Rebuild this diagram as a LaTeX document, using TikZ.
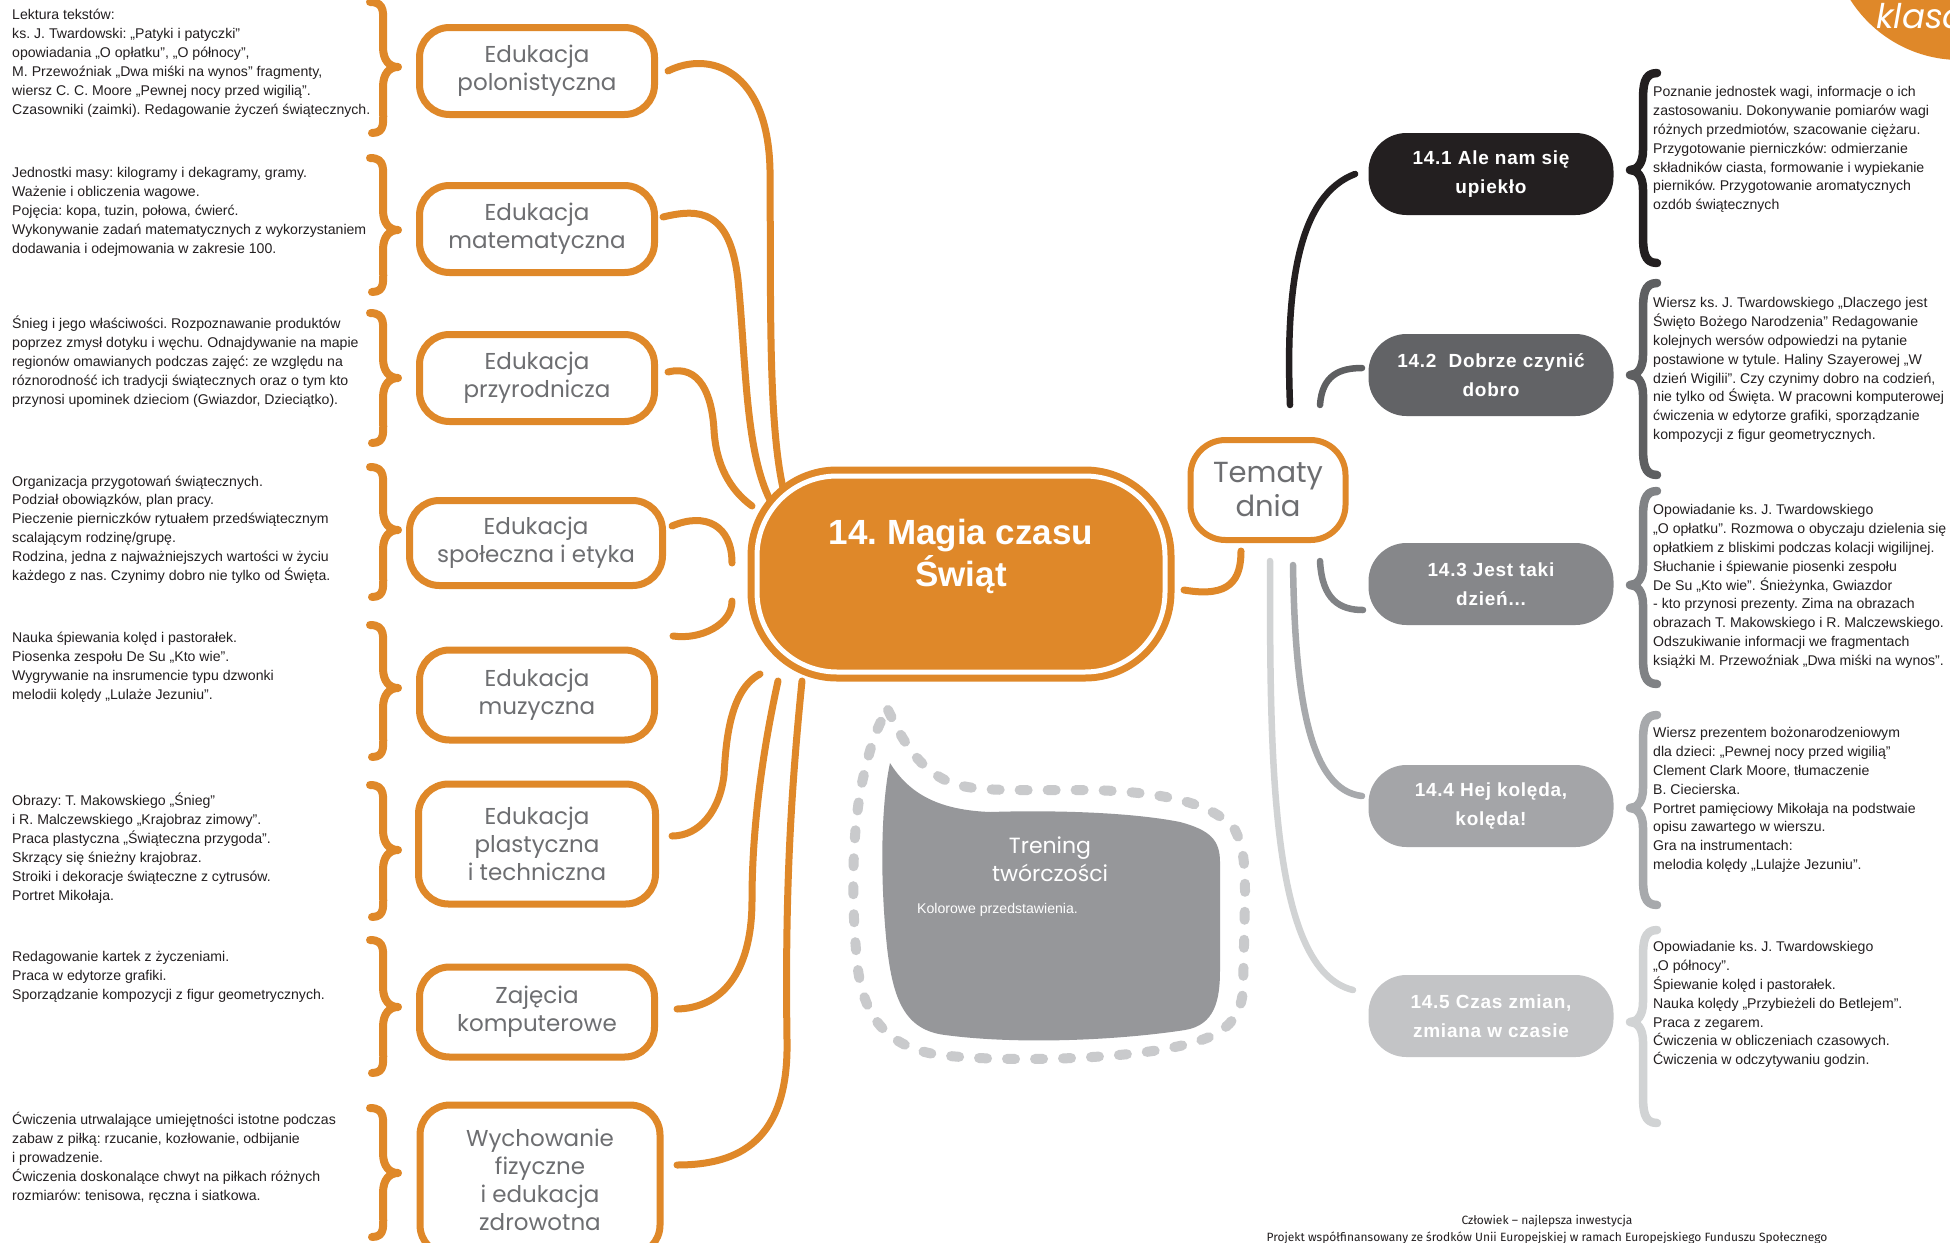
\documentclass[tikz,border=0pt]{standalone}
\usepackage{fontspec}
\setmainfont{Liberation Sans}
\newfontfamily\handfont{Poppins}
\newfontfamily\topicfont{Liberation Sans}[LetterSpace=4]
\newfontfamily\footfont{Fira Sans}
\usetikzlibrary{calc}
\frenchspacing
\definecolor{orng}{HTML}{DF8829}
\definecolor{hgrey}{HTML}{6D6E71}
\definecolor{txt}{HTML}{231F20}
\definecolor{ca}{HTML}{231F20}
\definecolor{cb}{HTML}{626366}
\definecolor{cc}{HTML}{86878A}
\definecolor{cd}{HTML}{A4A5A8}
\definecolor{ce}{HTML}{C3C4C6}
\definecolor{la}{HTML}{231F20}
\definecolor{lb}{HTML}{5E5F61}
\definecolor{lc}{HTML}{808285}
\definecolor{ld}{HTML}{A7A9AC}
\definecolor{le}{HTML}{D1D3D4}
\definecolor{trfill}{HTML}{96979A}
\definecolor{trdash}{HTML}{C9CACC}
\newcommand\orangebrace[3]{\draw[lbr] (370,#1) .. controls (386,#1) and (383,#1+12) .. (383,#1+28) -- (383,#2-20) .. controls (383,#2-6) and (390,#2) .. (398,#2) .. controls (390,#2) and (383,#2+6) .. (383,#2+20) -- (383,#3-28) .. controls (383,#3-12) and (386,#3) .. (372,#3);}
\newcommand\greybrace[4]{\draw[rbr,#1] (1657,#2) .. controls (1644,#2) and (1643,#2+12) .. (1643,#2+28) -- (1643,#3-20) .. controls (1643,#3-6) and (1637,#3) .. (1630,#3) .. controls (1637,#3) and (1643,#3+6) .. (1643,#3+20) -- (1643,#4-28) .. controls (1643,#4-12) and (1644,#4) .. (1657,#4);}
\begin{document}
\begin{tikzpicture}[x=1pt,y=-1pt,
  body/.style={anchor=north west, inner sep=0pt, align=left, text=txt, font=\fontsize{14.1}{18.9}\selectfont},
  subj/.style={draw=orng, line width=7pt, fill=white, rounded corners=30pt, outer sep=0pt, minimum width=235pt, minimum height=87pt, align=center, text=hgrey, font=\handfont\fontsize{23}{28}\selectfont},
  topicbox/.style={rounded corners=38pt, outer sep=0pt, minimum width=245pt, minimum height=82pt, align=center, text=white, font=\topicfont\bfseries\fontsize{19}{29}\selectfont},
  lbr/.style={draw=orng, line width=8pt, line cap=round, line join=round},
  rbr/.style={line width=8.5pt, line cap=round, line join=round},
  conn/.style={draw=orng, line width=7pt, line cap=round},
  gconn/.style={line width=6.5pt, line cap=round}]
\useasboundingbox (0,0) rectangle (1950,1242);
\fill[white] (0,0) rectangle (1950,1242);

% corner badge and footer (clipped to page)
\begin{scope}
\clip (0,0) rectangle (1950,1242);
\fill[orng] (1960,-70) circle[radius=130pt];
\node[anchor=west, text=white, inner sep=0pt, font=\handfont\itshape\fontsize{34}{34}\selectfont] (klasa) at (1876,16) {klasa};
\node[text=txt, inner sep=0pt, font=\footfont\fontsize{12}{12}\selectfont] (foot1) at (1547,1221) {Człowiek – najlepsza inwestycja};
\node[text=txt, inner sep=0pt, font=\footfont\fontsize{12}{12}\selectfont] (foot2) at (1547,1238) {Projekt współfinansowany ze środków Unii Europejskiej w ramach Europejskiego Funduszu Społecznego};
\end{scope}

% left descriptions
\node[body] (d1) at (12,9) {Lektura tekstów:\\ks. J. Twardowski: „Patyki i patyczki"\\opowiadania „O opłatku", „O północy",\\M. Przewoźniak „Dwa miśki na wynos" fragmenty,\\wiersz C. C. Moore „Pewnej nocy przed wigilią".\\Czasowniki (zaimki). Redagowanie życzeń świątecznych.};
\node[body] (d2) at (12,167) {Jednostki masy: kilogramy i dekagramy, gramy.\\Ważenie i obliczenia wagowe.\\Pojęcia: kopa, tuzin, połowa, ćwierć.\\Wykonywanie zadań matematycznych z wykorzystaniem\\dodawania i odejmowania w zakresie 100.};
\node[body] (d3) at (12,316) {Śnieg i jego właściwości. Rozpoznawanie produktów\\poprzez zmysł dotyku i węchu. Odnajdywanie na mapie\\regionów omawianych podczas zajęć: ze względu na\\róznorodność ich tradycji świątecznych oraz o tym kto\\przynosi upominek dzieciom (Gwiazdor, Dzieciątko).};
\node[body] (d4) at (12,475.5) {Organizacja przygotowań świątecznych.\\Podział obowiązków, plan pracy.\\Pieczenie pierniczków rytuałem przedświątecznym\\scalającym rodzinę/grupę.\\Rodzina, jedna z najważniejszych wartości w życiu\\każdego z nas. Czynimy dobro nie tylko od Święta.};
\node[body] (d5) at (12,632) {Nauka śpiewania kolęd i pastorałek.\\Piosenka zespołu De Su „Kto wie".\\Wygrywanie na insrumencie typu dzwonki\\melodii kolędy „Lulaże Jezuniu".};
\node[body] (d6) at (12,793) {Obrazy: T. Makowskiego „Śnieg"\\i R. Malczewskiego „Krajobraz zimowy".\\Praca plastyczna „Świąteczna przygoda".\\Skrzący się śnieżny krajobraz.\\Stroiki i dekoracje świąteczne z cytrusów.\\Portret Mikołaja.};
\node[body] (d7) at (12,951) {Redagowanie kartek z życzeniami.\\Praca w edytorze grafiki.\\Sporządzanie kompozycji z figur geometrycznych.};
\node[body] (d8) at (12,1112) {Ćwiczenia utrwalające umiejętności istotne podczas\\zabaw z piłką: rzucanie, kozłowanie, odbijanie\\i prowadzenie.\\Ćwiczenia doskonalące chwyt na piłkach różnych\\rozmiarów: tenisowa, ręczna i siatkowa.};

% left braces
\orangebrace{2}{67}{133}
\orangebrace{158}{230}{292}
\orangebrace{313}{378}{443}
\orangebrace{467}{530}{597}
\orangebrace{625}{688}{757}
\orangebrace{785}{850}{917}
\orangebrace{940}{1007}{1073}
\orangebrace{1108}{1173}{1237}

% subject nodes
\node[subj] (s1) at (537,71) {Edukacja\\polonistyczna};
\node[subj] (s2) at (537,229) {Edukacja\\matematyczna};
\node[subj] (s3) at (537,378) {Edukacja\\przyrodnicza};
\node[subj, minimum width=253pt, minimum height=85pt] (s4) at (536,543) {Edukacja\\społeczna i etyka};
\node[subj, minimum height=90pt] (s5) at (537,695) {Edukacja\\muzyczna};
\node[subj, minimum width=237pt, minimum height=120pt] (s6) at (537,844) {Edukacja\\plastyczna\\i techniczna};
\node[subj, minimum height=90pt] (s7) at (537,1012) {Zajęcia\\komputerowe};
\node[subj, minimum width=240pt, minimum height=150pt] (s8) at (540,1180) {Wychowanie\\fizyczne\\i edukacja\\zdrowotna};

% central node
\node[fill=orng, draw=white, line width=5pt, preaction={draw=orng, line width=19pt}, rounded corners=80pt, outer sep=0pt, minimum width=408pt, minimum height=196pt, align=center, text=white, font=\bfseries\fontsize{35}{42}\selectfont] (c) at (961,574) {14. Magia czasu\\Świąt\\\mbox{}};

% Tematy dnia
\node[draw=orng, line width=6pt, fill=white, rounded corners=35pt, outer sep=0pt, minimum width=155pt, minimum height=100pt, align=center, text=hgrey, font=\handfont\fontsize{29}{34}\selectfont] (tm) at (1268,490) {Tematy\\dnia};

% topic boxes
\node[topicbox, fill=ca] (t1) at (1491,174) {14.1 Ale nam się\\upiekło};
\node[topicbox, fill=cb] (t2) at (1491,375) {14.2~ Dobrze czynić\\dobro};
\node[topicbox, fill=cc] (t3) at (1491,584) {14.3 Jest taki\\dzień...};
\node[topicbox, fill=cd] (t4) at (1491,806) {14.4 Hej kolęda,\\kolęda!};
\node[topicbox, fill=ce] (t5) at (1491,1016) {14.5 Czas zmian,\\zmiana w czasie};

% right descriptions
\node[body] (r1) at (1653,86) {Poznanie jednostek wagi, informacje o ich\\zastosowaniu. Dokonywanie pomiarów wagi\\różnych przedmiotów, szacowanie ciężaru.\\Przygotowanie pierniczków: odmierzanie\\składników ciasta, formowanie i wypiekanie\\pierników. Przygotowanie aromatycznych\\ozdób świątecznych};
\node[body] (r2) at (1653,297) {Wiersz ks. J. Twardowskiego „Dlaczego jest\\Święto Bożego Narodzenia" Redagowanie\\kolejnych wersów odpowiedzi na pytanie\\postawione w tytule. Haliny Szayerowej „W\\dzień Wigilii". Czy czynimy dobro na codzień,\\nie tylko od Święta. W pracowni komputerowej\\ćwiczenia w edytorze grafiki, sporządzanie\\kompozycji z figur geometrycznych.};
\node[body] (r3) at (1653,504) {Opowiadanie ks. J. Twardowskiego\\„O opłatku". Rozmowa o obyczaju dzielenia się\\opłatkiem z bliskimi podczas kolacji wigilijnej.\\Słuchanie i śpiewanie piosenki zespołu\\De Su „Kto wie". Śnieżynka, Gwiazdor\\- kto przynosi prezenty. Zima na obrazach\\obrazach T. Makowskiego i R. Malczewskiego.\\Odszukiwanie informacji we fragmentach\\książki M. Przewoźniak „Dwa miśki na wynos".};
\node[body] (r4) at (1653,727) {Wiersz prezentem bożonarodzeniowym\\dla dzieci: „Pewnej nocy przed wigilią"\\Clement Clark Moore, tłumaczenie\\B. Ciecierska.\\Portret pamięciowy Mikołaja na podstwaie\\opisu zawartego w wierszu.\\Gra na instrumentach:\\melodia kolędy „Lulajże Jezuniu".};
\node[body] (r5) at (1653,941) {Opowiadanie ks. J. Twardowskiego\\„O północy".\\Śpiewanie kolęd i pastorałek.\\Nauka kolędy „Przybieżeli do Betlejem".\\Praca z zegarem.\\Ćwiczenia w obliczeniach czasowych.\\Ćwiczenia w odczytywaniu godzin.};

% right braces
\greybrace{draw=la}{73}{170}{263}
\greybrace{draw=lb}{283}{375}{475}
\greybrace{draw=lc}{491}{585}{684}
\greybrace{draw=ld}{715}{808}{905}
\greybrace{draw=le}{930}{1022}{1123}

% Trening tworczosci
\path[fill=trfill] (890,763) .. controls (882,800) and (879,870) .. (887,947) .. controls (893,1000) and (905,1030) .. (945,1035) .. controls (1020,1045) and (1120,1040) .. (1185,1030) .. controls (1215,1025) and (1220,1000) .. (1220,970) -- (1220,862) .. controls (1220,840) and (1210,830) .. (1180,822) .. controls (1130,812) and (1050,810) .. (990,812) .. controls (940,810) and (910,795) .. (890,763) -- cycle;
\draw[trdash, line width=10pt, line cap=round, dash pattern=on 8pt off 20pt] (888,710) .. controls (900,735) and (915,765) .. (945,780) .. controls (970,792) and (1000,790) .. (1090,790) .. controls (1170,792) and (1215,805) .. (1235,830) .. controls (1245,850) and (1245,870) .. (1245,900) -- (1243,990) .. controls (1240,1030) and (1210,1040) .. (1170,1048) .. controls (1110,1060) and (1000,1062) .. (940,1055) .. controls (890,1048) and (865,1020) .. (858,970) .. controls (850,900) and (852,820) .. (865,770) .. controls (872,740) and (880,720) .. (888,710);
\node[align=center, text=white, inner sep=0pt, font=\handfont\fontsize{22}{28}\selectfont] (tr) at (1050,859) {Trening\\twórczości};
\node[anchor=west, text=white, inner sep=0pt, font=\fontsize{14.1}{17}\selectfont] (kol) at (917,910) {Kolorowe przedstawienia.};

% orange connectors
\draw[conn] ($(s1.east)+(13.5,0)$) .. controls (710,50) and (768,70) .. (770,170) .. controls (771,300) and (768,420) .. ($(c.center)+(-178,-86)$);
\draw[conn] ($(s2.east)+(8.5,-12)$) .. controls (700,208) and (730,210) .. (738,280) .. controls (746,360) and (745,450) .. ($(c.center)+(-191,-74)$);
\draw[conn] ($(s3.east)+(13.5,-6)$) .. controls (700,364) and (712,395) .. (714,430) .. controls (716,465) and (730,490) .. ($(c.center)+(-209,-68)$);
\draw[conn] ($(s4.east)+(9.5,-17)$) .. controls (705,512) and (732,525) .. ($(c.center)+(-229,-11)$);
\draw[conn] ($(c.center)+(-229,27)$) .. controls (732,625) and (700,640) .. ($(s5.north east)+(18.5,-14)$);
\draw[conn] ($(c.center)+(-201,100)$) .. controls (730,690) and (726,740) .. (724,775) .. controls (720,810) and (700,836) .. ($(s6.east)+(16.5,-8)$);
\draw[conn] ($(c.center)+(-183,107)$) .. controls (765,740) and (752,820) .. (752,900) .. controls (752,975) and (720,1008) .. ($(s7.east)+(22.5,-3)$);
\draw[conn] ($(c.center)+(-159,107)$) .. controls (790,800) and (785,900) .. (787,1040) .. controls (789,1140) and (740,1165) .. ($(s8.east)+(17,-15)$);
\draw[conn] ($(c.center)+(223,16)$) .. controls (1230,598) and (1241,580) .. ($(tm.south)+(-27,11)$);

% grey connectors
\draw[gconn, draw=la] ($(tm.north)+(22,-35)$) .. controls (1285,280) and (1300,195) .. ($(t1.west)+(-13.5,0)$);
\draw[gconn, draw=lb] ($(tm.north)+(52,-35)$) .. controls (1322,375) and (1340,368) .. ($(t2.west)+(-6.5,-7)$);
\draw[gconn, draw=lc] ($(tm.south)+(52,21)$) .. controls (1322,600) and (1340,610) .. ($(t3.west)+(-5.5,26)$);
\draw[gconn, draw=ld] ($(tm.south)+(25,25)$) .. controls (1295,700) and (1310,790) .. ($(t4.west)+(-6.5,-10)$);
\draw[gconn, draw=le] ($(tm.south)+(2,21)$) .. controls (1270,760) and (1270,970) .. ($(t5.west)+(-15.5,-26)$);
\end{tikzpicture}
\end{document}
